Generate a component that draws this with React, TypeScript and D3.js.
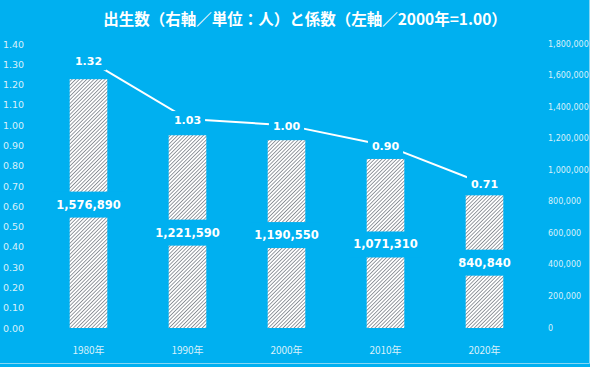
import React from 'react';
import * as d3 from 'd3';

const years = ['1980年', '1990年', '2000年', '2010年', '2020年'];
const births = [1576890, 1221590, 1190550, 1071310, 840840];
const coefficients = [1.32, 1.03, 1.0, 0.9, 0.71];
const title = '出生数（右軸／単位：人）と係数（左軸／2000年=1.00）';

const W = 590;
const H = 367;
const BG = '#00b0f0';
const TICK = '#d8f1fb';
const FONT = '"DejaVu Sans", Verdana, sans-serif';

function drawChart(el: SVGSVGElement) {
  const svg = d3.select(el);
  svg.selectAll('*').remove();

  // hatch pattern for the bars (dark upward diagonal)
  const defs = svg.append('defs');
  const pat = defs
    .append('pattern')
    .attr('id', 'hatch')
    .attr('patternUnits', 'userSpaceOnUse')
    .attr('width', 2.6)
    .attr('height', 2.6)
    .attr('patternTransform', 'rotate(45)');
  pat.append('rect').attr('width', 2.6).attr('height', 2.6).attr('fill', '#ffffff');
  pat
    .append('line')
    .attr('x1', 0)
    .attr('y1', 0)
    .attr('x2', 0)
    .attr('y2', 2.6)
    .attr('stroke', '#5f6670')
    .attr('stroke-width', 1.3);

  svg.append('rect').attr('width', W).attr('height', H).attr('fill', BG);
  // thin light border on the right / bottom edge
  svg
    .append('path')
    .attr('d', `M589.5,0V363.5H0`)
    .attr('fill', 'none')
    .attr('stroke', '#86d6f4');

  const x = d3.scaleBand<string>().domain(years).range([39, 534]).paddingInner(0.62).paddingOuter(0.31);
  const yL = d3.scaleLinear().domain([0, 1.4]).range([328, 44]);
  const yR = d3.scaleLinear().domain([0, 1800000]).range([328, 44]);
  const cx = (d: string) => (x(d) as number) + x.bandwidth() / 2;

  svg
    .append('text')
    .attr('x', 305)
    .attr('y', 18)
    .attr('text-anchor', 'middle')
    .attr('dominant-baseline', 'central')
    .attr('fill', '#ffffff')
    .attr('font-family', '"Noto Sans CJK JP", sans-serif')
    .attr('font-weight', 'bold')
    .attr('font-size', 15.5)
    .text(title);

  // left axis labels
  svg
    .append('g')
    .selectAll('text')
    .data(yL.ticks(14))
    .enter()
    .append('text')
    .attr('x', 3)
    .attr('y', (d) => yL(d))
    .attr('dominant-baseline', 'central')
    .attr('fill', TICK)
    .attr('font-family', FONT)
    .attr('font-size', 9.5)
    .text((d) => d3.format('.2f')(d));

  // right axis labels
  svg
    .append('g')
    .selectAll('text')
    .data(yR.ticks(9))
    .enter()
    .append('text')
    .attr('x', 548)
    .attr('y', (d) => yR(d))
    .attr('dominant-baseline', 'central')
    .attr('fill', TICK)
    .attr('font-family', FONT)
    .attr('font-size', 8)
    .text((d) => d3.format(',')(d));

  // category labels
  svg
    .append('g')
    .selectAll('text')
    .data(years)
    .enter()
    .append('text')
    .attr('x', (d) => cx(d))
    .attr('y', 349)
    .attr('text-anchor', 'middle')
    .attr('dominant-baseline', 'central')
    .attr('fill', TICK)
    .attr('font-family', '"Noto Sans CJK JP", ' + FONT)
    .attr('font-size', 10)
    .text((d) => d);

  // bars
  svg
    .append('g')
    .selectAll('rect')
    .data(births)
    .enter()
    .append('rect')
    .attr('x', (_, i) => x(years[i]) as number)
    .attr('y', (d) => yR(d))
    .attr('width', x.bandwidth())
    .attr('height', (d) => yR(0) - yR(d))
    .attr('fill', 'url(#hatch)');

  // coefficient line
  const line = d3
    .line<number>()
    .x((_, i) => cx(years[i]))
    .y((d) => yL(d));
  svg
    .append('path')
    .datum(coefficients)
    .attr('d', line)
    .attr('fill', 'none')
    .attr('stroke', '#ffffff')
    .attr('stroke-width', 2);

  // data labels with background boxes
  const label = (px: number, py: number, txt: string, size: number, h: number) => {
    const g = svg.append('g');
    const t = g
      .append('text')
      .attr('x', px)
      .attr('y', py)
      .attr('text-anchor', 'middle')
      .attr('dominant-baseline', 'central')
      .attr('fill', '#ffffff')
      .attr('font-family', FONT)
      .attr('font-weight', 'bold')
      .attr('font-size', size)
      .text(txt);
    const w = (t.node() as SVGTextElement).getComputedTextLength() + 8;
    g.insert('rect', 'text')
      .attr('x', px - w / 2)
      .attr('y', py - h / 2)
      .attr('width', w)
      .attr('height', h)
      .attr('fill', BG);
  };

  births.forEach((d, i) => {
    label(cx(years[i]), (yR(d) + yR(0)) / 2 + 1, d3.format(',')(d), 11.5, 26);
  });
  coefficients.forEach((d, i) => {
    label(cx(years[i]), yL(d) + 1, d3.format('.2f')(d), 11, 18);
  });
}

export default function App() {
  const ref = React.useRef<SVGSVGElement>(null);
  React.useEffect(() => {
    if (ref.current) drawChart(ref.current);
  }, []);
  return (
    <svg
      ref={ref}
      width={W}
      height={H}
      style={{ position: 'absolute', left: 0, top: 0, display: 'block' }}
    />
  );
}
